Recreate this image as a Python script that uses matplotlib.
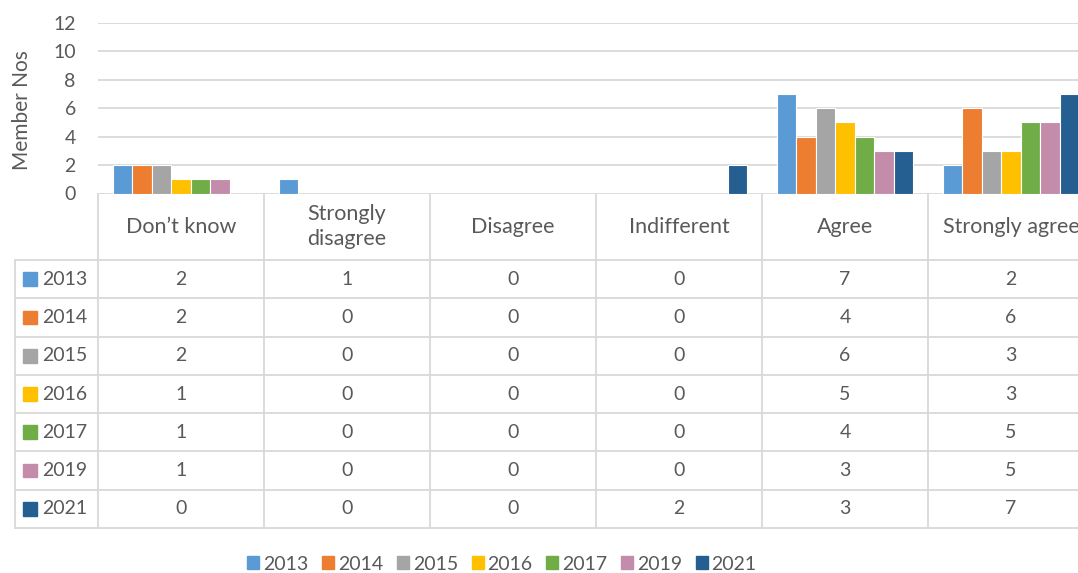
import matplotlib
matplotlib.use("Agg")
import matplotlib.pyplot as plt
from matplotlib.patches import Rectangle, Patch

# --- data ---
categories = ["Don\u2019t know", "Strongly\ndisagree", "Disagree", "Indifferent", "Agree", "Strongly agree"]
years = ["2013", "2014", "2015", "2016", "2017", "2019", "2021"]
v2013 = [2, 1, 0, 0, 7, 2]
v2014 = [2, 0, 0, 0, 4, 6]
v2015 = [2, 0, 0, 0, 6, 3]
v2016 = [1, 0, 0, 0, 5, 3]
v2017 = [1, 0, 0, 0, 4, 5]
v2019 = [1, 0, 0, 0, 3, 5]
v2021 = [0, 0, 0, 2, 3, 7]
series = [v2013, v2014, v2015, v2016, v2017, v2019, v2021]
colors = ["#5B9BD5", "#ED7D31", "#A5A5A5", "#FFC000", "#70AD47", "#C48CAB", "#255E91"]
y_ticks = [0, 2, 4, 6, 8, 10, 12]

# --- layout (pixels) ---
W, H = 1078, 573
TXT = "#595959"
GRID = "#D9D9D9"
FONT = "Lato"
FS_NUM = 14      # digits
FS_CAT = 15.5    # header words
FS_YLAB = 15

plt.rcParams["font.family"] = [FONT, "DejaVu Sans"]

fig = plt.figure(figsize=(W / 100, H / 100), dpi=100)

def fx(px):
    return px / W

def fy(py):
    return 1 - py / H

# chart area
ax = fig.add_axes([fx(98), fy(193.5), fx(1094) - fx(98), fy(22.7) - fy(193.5)])
n = len(categories)
pitch = 0.117
for j, (vals, c) in enumerate(zip(series, colors)):
    xs = [i + 0.5 + (j - 3) * pitch for i in range(n)]
    ax.bar(xs, vals, width=pitch, color=c, edgecolor="white", linewidth=0.8, zorder=3)
ax.set_xlim(0, n)
ax.set_ylim(0, 12)
ax.set_yticks(y_ticks)
ax.set_xticks([])
ax.yaxis.grid(True, color=GRID, linewidth=1.3, zorder=0)
for s in ax.spines.values():
    s.set_visible(False)
ax.tick_params(axis="y", length=0, pad=16, labelsize=FS_NUM, labelcolor=TXT)
ax.set_ylabel("Member Nos", fontsize=FS_YLAB, color=TXT)
ax.yaxis.set_label_coords(-0.066, 0.49)

# data table
hdr = 66.5 / 38.2
nrows = len(years)
tab = fig.add_axes([fx(15), fy(528), fx(1094) - fx(15), fy(193.5) - fy(528)])
tab.set_xlim(-0.5, n)
tab.set_ylim(hdr + nrows, 0)
tab.axis("off")
lkw = dict(color=GRID, linewidth=1.3, clip_on=False)
for i in range(n + 1):
    tab.plot([i, i], [0, hdr + nrows], **lkw)
tab.plot([-0.5, -0.5], [hdr, hdr + nrows], **lkw)
for k in range(nrows + 1):
    tab.plot([-0.5, n], [hdr + k, hdr + k], **lkw)
for i, cat in enumerate(categories):
    tab.text(i + 0.5, hdr / 2, cat, ha="center", va="center", fontsize=FS_CAT, color=TXT,
             linespacing=1.3)
for k, (yr, vals, c) in enumerate(zip(years, series, colors)):
    yc = hdr + k + 0.5
    tab.add_patch(Rectangle((-0.452, yc - 0.18), 0.083, 0.36, color=c, clip_on=False))
    tab.text(-0.337, yc, yr, ha="left", va="center", fontsize=FS_NUM, color=TXT)
    for i, v in enumerate(vals):
        tab.text(i + 0.5, yc, str(v), ha="center", va="center", fontsize=FS_NUM, color=TXT)

# legend
handles = [Patch(color=c, label=y) for y, c in zip(years, colors)]
fig.legend(handles=handles, loc="center", bbox_to_anchor=(fx(502), fy(564)), ncol=7,
           frameon=False, fontsize=FS_NUM, labelcolor=TXT, handlelength=0.62, handleheight=0.62,
           handletextpad=0.2, columnspacing=0.7)

fig.savefig("out.png", dpi=100)
